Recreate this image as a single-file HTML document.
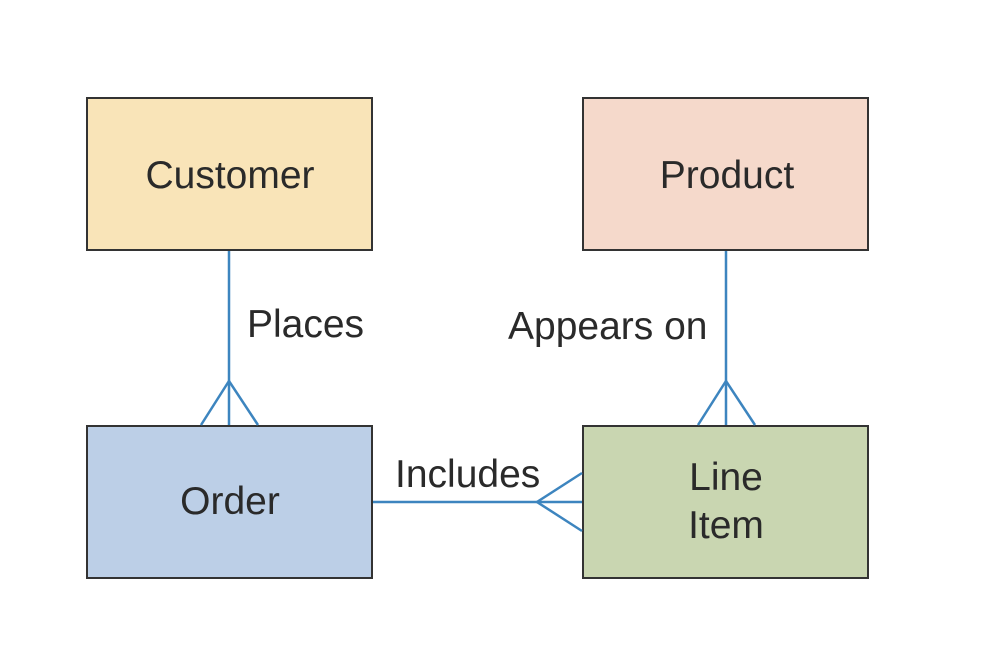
<!DOCTYPE html>
<html><head><meta charset="utf-8"><style>
html,body{margin:0;padding:0;background:#fff;}
svg text{font-family:"Liberation Sans",sans-serif;font-size:39px;fill:#2a2a2a;}
</style></head><body>
<svg width="1008" height="666" viewBox="0 0 1008 666" xmlns="http://www.w3.org/2000/svg">
<rect width="1008" height="666" fill="#fff"/>
<g stroke="#333" stroke-width="2">
<rect x="87" y="98" width="285" height="152" fill="#f9e4b8"/>
<rect x="583" y="98" width="285" height="152" fill="#f5d9cb"/>
<rect x="87" y="426" width="285" height="152" fill="#bccfe7"/>
<rect x="583" y="426" width="285" height="152" fill="#c9d6b1"/>
</g>
<g stroke="#3d85bf" stroke-width="2.5" fill="none">
<line x1="229" y1="251" x2="229" y2="425"/>
<polyline points="201,425 229,381 258,425"/>
<line x1="726" y1="251" x2="726" y2="425"/>
<polyline points="698,425 726,381 755,425"/>
<line x1="373" y1="502" x2="582" y2="502"/>
<polyline points="582,473 537,502 582,531"/>
</g>
<text x="230" y="188" text-anchor="middle">Customer</text>
<text x="727" y="188" text-anchor="middle">Product</text>
<text x="230" y="514" text-anchor="middle">Order</text>
<text x="726" y="490" text-anchor="middle">Line</text>
<text x="726" y="538" text-anchor="middle">Item</text>
<text x="247" y="337">Places</text>
<text x="508" y="339">Appears on</text>
<text x="395" y="487">Includes</text>
</svg>
</body></html>
